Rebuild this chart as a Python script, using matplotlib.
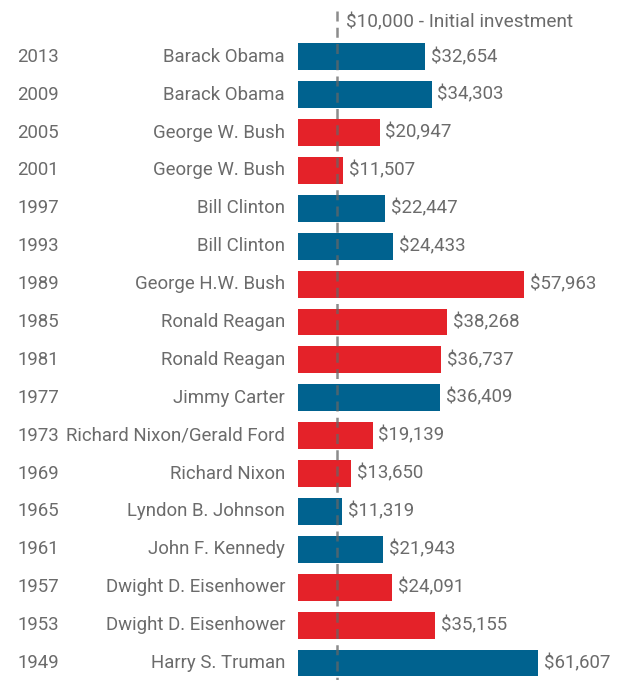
import matplotlib
matplotlib.use('agg')
import matplotlib.pyplot as plt
from matplotlib import font_manager

years = ["2013", "2009", "2005", "2001", "1997", "1993", "1989", "1985", "1981",
         "1977", "1973", "1969", "1965", "1961", "1957", "1953", "1949"]
presidents = ["Barack Obama", "Barack Obama", "George W. Bush", "George W. Bush",
              "Bill Clinton", "Bill Clinton", "George H.W. Bush", "Ronald Reagan",
              "Ronald Reagan", "Jimmy Carter", "Richard Nixon/Gerald Ford",
              "Richard Nixon", "Lyndon B. Johnson", "John F. Kennedy",
              "Dwight D. Eisenhower", "Dwight D. Eisenhower", "Harry S. Truman"]
values = [32654, 34303, 20947, 11507, 22447, 24433, 57963, 38268, 36737,
          36409, 19139, 13650, 11319, 21943, 24091, 35155, 61607]
parties = ["D", "D", "R", "R", "D", "D", "R", "R", "R",
           "D", "R", "R", "D", "D", "R", "R", "D"]
initial = 10000

party_colors = {"D": "#00628F", "R": "#E42229"}
text_color = "#6b6b6b"

# pick a narrow font if we have one
names = {f.name for f in font_manager.fontManager.ttflist}
family = "Liberation Sans Narrow" if "Liberation Sans Narrow" in names else "Roboto"
plt.rcParams['font.family'] = [family, 'DejaVu Sans']

fig = plt.figure(figsize=(6.17, 6.80), dpi=100)
ax = fig.add_axes([298 / 617, 0, 1 - 298 / 617, 1])

ypos = list(range(len(values)))
colors = [party_colors[p] for p in parties]
ax.barh(ypos, values, height=0.71, color=colors, zorder=1)

ax.set_xlim(0, 81880)
ax.set_ylim(16.45, -1.50)
ax.axis('off')

fs = 13.4

# value labels
for y, v in zip(ypos, values):
    ax.text(v + 1500, y, "${:,}".format(v), va='center', ha='left',
            fontsize=fs, color=text_color)

# year and name labels, outside the axes on the left
for y, yr, name in zip(ypos, years, presidents):
    ax.annotate(yr, xy=(0, y), xycoords=('axes fraction', 'data'),
                xytext=(-260, 0), textcoords='offset pixels',
                ha='center', va='center', fontsize=fs, color=text_color,
                annotation_clip=False)
    ax.annotate(name, xy=(0, y), xycoords=('axes fraction', 'data'),
                xytext=(-13, 0), textcoords='offset pixels',
                ha='right', va='center', fontsize=fs, color=text_color,
                annotation_clip=False)

# initial investment reference line
ax.plot([initial, initial], [-1.2, 16.45], color='#666666', lw=1.8,
        linestyle=(0, (4, 2.5)), alpha=0.75, zorder=3, clip_on=False)
ax.text(initial + 2300, -0.92, "$10,000 - Initial investment", va='center',
        ha='left', fontsize=fs + 0.3, color=text_color)

fig.savefig('out.png', dpi=100)
